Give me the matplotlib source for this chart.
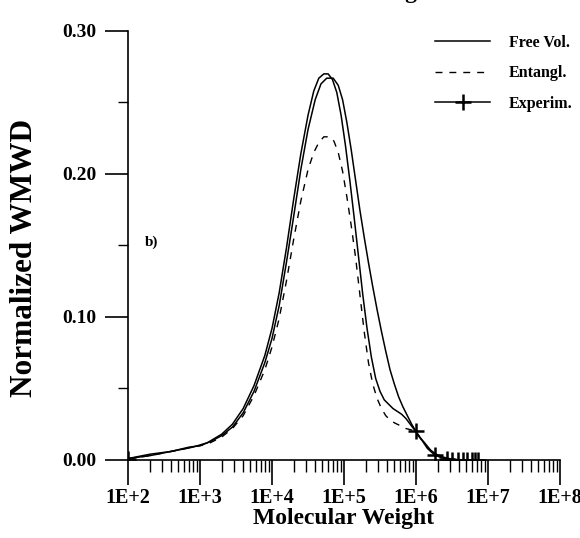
import numpy as np
import matplotlib
matplotlib.use('Agg')
from matplotlib import pyplot as plt
from matplotlib.ticker import FixedLocator, NullFormatter, FixedFormatter

plt.rcParams['font.family'] = ['Liberation Serif', 'DejaVu Serif']
plt.rcParams['font.weight'] = 'bold'

# log10 of molecular weight and normalized WMWD values
free_logm = [2.0, 2.3, 2.6, 2.9, 3.1, 3.3, 3.45, 3.6, 3.75, 3.9, 4.0, 4.1, 4.2, 4.3,
             4.4, 4.5, 4.58, 4.65, 4.72, 4.78, 4.84, 4.9, 4.96, 5.02, 5.08, 5.14,
             5.2, 5.26, 5.32, 5.38, 5.44, 5.5, 5.56, 5.62, 5.68, 5.74, 5.8, 5.86,
             5.92, 5.98, 6.05, 6.12, 6.2, 6.28, 6.38, 6.5, 6.7]
free_val = [0.001, 0.004, 0.006, 0.009, 0.012, 0.018, 0.025, 0.036, 0.052, 0.073,
            0.092, 0.117, 0.148, 0.182, 0.214, 0.241, 0.258, 0.267, 0.270, 0.270,
            0.266, 0.257, 0.241, 0.220, 0.196, 0.170, 0.143, 0.116, 0.092, 0.072,
            0.057, 0.048, 0.042, 0.039, 0.036, 0.034, 0.032, 0.029, 0.025, 0.021,
            0.016, 0.012, 0.007, 0.004, 0.002, 0.0005, 0.0]

ent_logm = [2.0, 2.3, 2.6, 2.9, 3.1, 3.3, 3.45, 3.6, 3.75, 3.9, 4.0, 4.1, 4.2, 4.3,
            4.4, 4.5, 4.58, 4.65, 4.72, 4.8, 4.86, 4.92, 4.98, 5.04, 5.1, 5.16,
            5.22, 5.28, 5.34, 5.4, 5.46, 5.52, 5.58, 5.64, 5.7, 5.78, 5.86, 5.94,
            6.0, 6.08, 6.16, 6.24, 6.34, 6.45, 6.6]
ent_val = [0.001, 0.003, 0.006, 0.009, 0.011, 0.016, 0.022, 0.031, 0.045, 0.063,
           0.079, 0.099, 0.125, 0.154, 0.181, 0.203, 0.215, 0.222, 0.226, 0.226,
           0.223, 0.215, 0.202, 0.184, 0.164, 0.142, 0.116, 0.090, 0.068, 0.053,
           0.043, 0.036, 0.031, 0.028, 0.026, 0.024, 0.022, 0.021, 0.019, 0.014,
           0.009, 0.005, 0.002, 0.0005, 0.0]

exp_logm = [2.0, 2.3, 2.6, 2.85, 3.0, 3.15, 3.3, 3.45, 3.6, 3.75, 3.9, 4.0, 4.1,
            4.2, 4.3, 4.4, 4.5, 4.6, 4.68, 4.76, 4.85, 4.92, 4.98, 5.04, 5.1,
            5.16, 5.22, 5.28, 5.34, 5.4, 5.46, 5.52, 5.58, 5.64, 5.7, 5.76, 5.82,
            5.88, 5.94, 6.0, 6.08, 6.16, 6.26, 6.36, 6.43, 6.5, 6.58, 6.65, 6.71,
            6.78, 6.82, 6.86]
exp_val = [0.001, 0.003, 0.006, 0.009, 0.010, 0.013, 0.017, 0.023, 0.033, 0.048,
           0.068, 0.085, 0.108, 0.138, 0.170, 0.203, 0.231, 0.252, 0.263, 0.267,
           0.267, 0.262, 0.252, 0.236, 0.217, 0.196, 0.175, 0.156, 0.138, 0.121,
           0.105, 0.090, 0.076, 0.063, 0.053, 0.044, 0.037, 0.031, 0.025, 0.020,
           0.014, 0.008, 0.0035, 0.0015, 0.0008, 0.0, 0.0, 0.0, 0.0, 0.0, 0.0, 0.0]
# experimental points that carry a "+" marker
exp_marked_logm = [2.0, 6.0, 6.26, 6.43, 6.5, 6.58, 6.65, 6.71, 6.78, 6.82, 6.86]

fig = plt.figure(figsize=(5.8, 5.38), dpi=100)
ax = fig.add_axes([0.2207, 0.145, 0.7448, 0.7974])

ax.plot(10 ** np.array(free_logm), free_val, color='black', lw=1.1, label='Free Vol.')
ax.plot(10 ** np.array(ent_logm), ent_val, color='black', lw=1.0, dashes=(5, 5),
        label='Entangl.')
marks = [exp_logm.index(v) for v in exp_marked_logm]
ax.plot(10 ** np.array(exp_logm), exp_val, color='black', lw=1.1, marker='+',
        ms=11, mew=1.8, markevery=marks, label='Experim.')

ax.set_xscale('log')
ax.set_xlim(1e2, 1e8)
ax.set_ylim(0, 0.30)

for s in ['top', 'right']:
    ax.spines[s].set_visible(False)
for s in ['left', 'bottom']:
    ax.spines[s].set_linewidth(1.2)
    ax.spines[s].set_zorder(0)

ax.xaxis.set_major_locator(FixedLocator([10.0 ** k for k in range(2, 9)]))
ax.xaxis.set_major_formatter(FixedFormatter(['1E+%d' % k for k in range(2, 9)]))
ax.xaxis.set_minor_locator(FixedLocator([m * 10.0 ** k for k in range(2, 8) for m in range(2, 10)]))
ax.xaxis.set_minor_formatter(NullFormatter())
ax.set_yticks([0.0, 0.10, 0.20, 0.30])
ax.set_yticklabels(['0.00', '0.10', '0.20', '0.30'])
ax.set_yticks([0.05, 0.15, 0.25], minor=True)

ax.tick_params(axis='x', which='major', direction='out', length=18, width=1.2,
               labelsize=14.5, pad=2)
ax.tick_params(axis='x', which='minor', direction='out', length=8.5, width=1.0)
ax.tick_params(axis='y', which='major', direction='out', length=16.5, width=1.2,
               labelsize=14, pad=6)
ax.tick_params(axis='y', which='minor', direction='out', length=7, width=1.0)
for lab in ax.get_xticklabels() + ax.get_yticklabels():
    lab.set_fontweight('bold')

ax.set_xlabel('Molecular Weight', fontsize=17, fontweight='bold', labelpad=0)
ax.set_ylabel('Normalized WMWD', fontsize=22.5, fontweight='bold')
ax.yaxis.set_label_coords(-0.205, 0.47)

ax.text(0.04, 0.50, 'b)', transform=ax.transAxes, fontsize=11, fontweight='bold')

lgd = ax.legend(loc='upper left', bbox_to_anchor=(0.737, 0.95),
                bbox_transform=fig.transFigure, frameon=False,
                handlelength=3.4, handletextpad=1.2, labelspacing=0.9,
                borderpad=0, numpoints=1, prop={'weight': 'bold', 'size': 11.5})

# title sliver cut off at the top edge of the reference
fig.text(0.72, 1.0 + 2.0 / 538, 'Modeling', ha='right', va='baseline',
         fontsize=17, fontweight='bold')

plt.savefig('out.png', dpi=100)
